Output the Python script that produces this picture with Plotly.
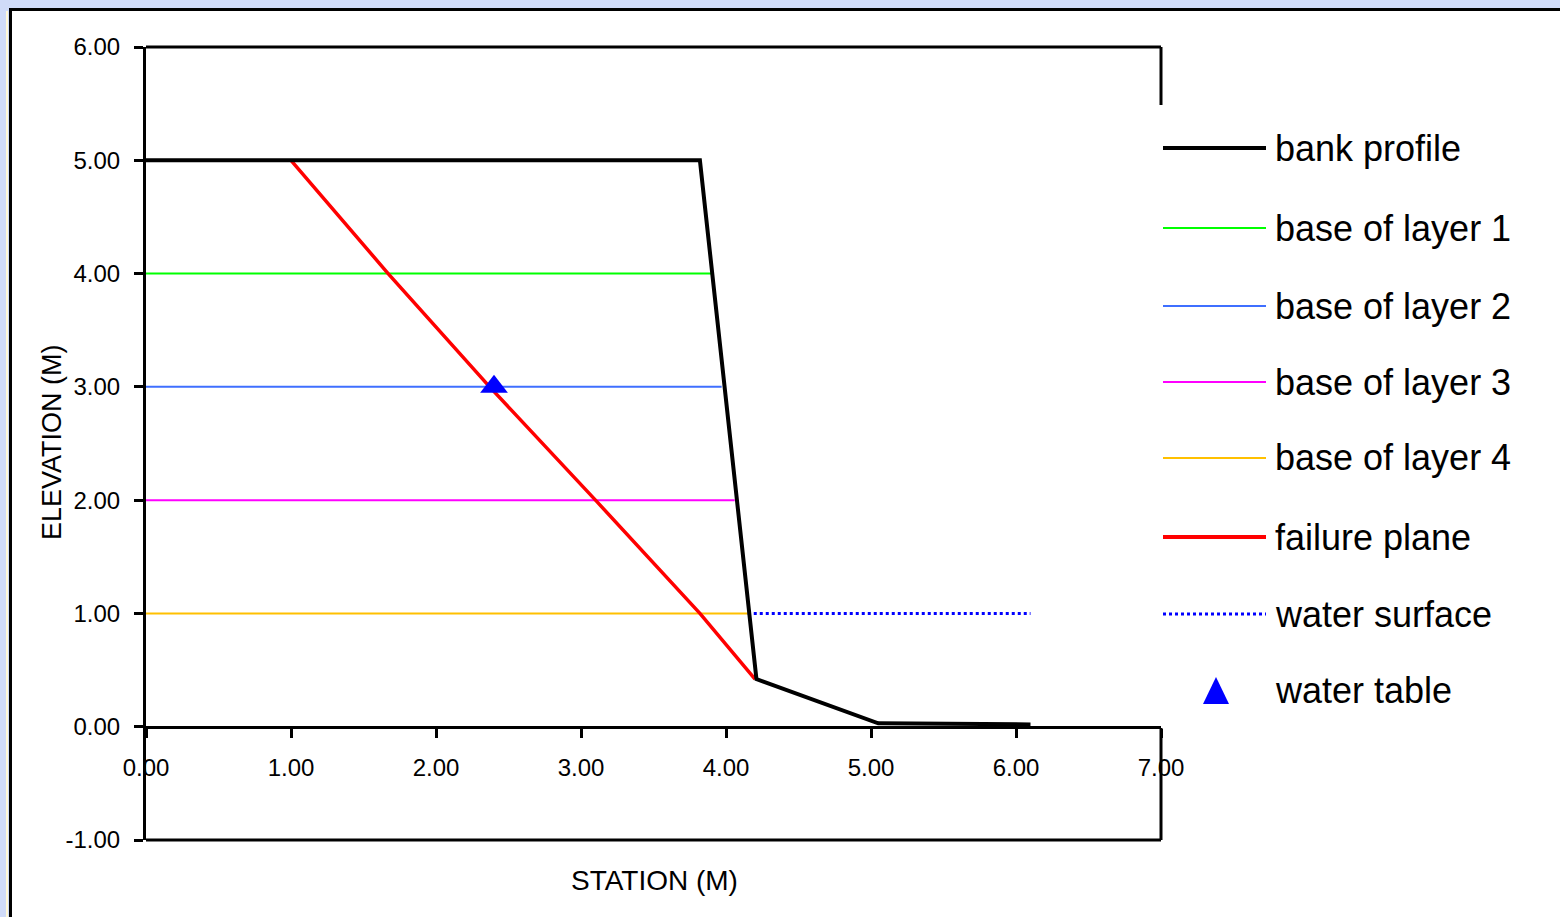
import plotly.graph_objects as go

# ---------------- data ----------------
bank_x = [0.0, 3.82, 4.21, 5.05, 6.10]
bank_y = [5.0, 5.0, 0.42, 0.03, 0.02]

failure_x = [1.0, 1.67, 2.37, 3.10, 3.82, 4.20]
failure_y = [5.0, 4.0, 3.0, 2.0, 1.0, 0.42]

layer_names = ["base of layer 1", "base of layer 2", "base of layer 3", "base of layer 4"]
layer_elev = [4.0, 3.0, 2.0, 1.0]
layer_end_x = [3.90, 3.97, 4.06, 4.15]
layer_colors = ["#00ff00", "#3f6fff", "#ff00ff", "#ffc000"]

water_surface_x = [4.15, 6.10]
water_surface_y = [1.0, 1.0]

water_table_x = [2.40]
water_table_y = [3.00]

x_tickvals = [0, 1, 2, 3, 4, 5, 6, 7]
x_ticktext = ["0.00", "1.00", "2.00", "3.00", "4.00", "5.00", "6.00", "7.00"]
y_tickvals = [-1, 0, 1, 2, 3, 4, 5, 6]
y_ticktext = ["-1.00", "0.00", "1.00", "2.00", "3.00", "4.00", "5.00", "6.00"]

legend_names = ["bank profile", "base of layer 1", "base of layer 2", "base of layer 3",
                "base of layer 4", "failure plane", "water surface", "water table"]

FONT = "Liberation Sans, Arial, sans-serif"

# ---------------- layout helpers (pixel -> paper) ----------------
W, H = 1560, 917
L, R, T, B = 146, 1161, 47, 840


def px(xp):
    return (xp - L) / (R - L)


def py(yp):
    return (B - yp) / (B - T)


fig = go.Figure()

for name, elev, xe, col in zip(layer_names, layer_elev, layer_end_x, layer_colors):
    fig.add_trace(go.Scatter(x=[0.0, xe], y=[elev, elev], mode="lines", name=name,
                             line=dict(color=col, width=2), showlegend=False))

fig.add_trace(go.Scatter(x=water_surface_x, y=water_surface_y, mode="lines", name="water surface",
                         line=dict(color="#0000ff", width=3, dash="dot"), showlegend=False))

fig.add_trace(go.Scatter(x=failure_x, y=failure_y, mode="lines", name="failure plane",
                         line=dict(color="#ff0000", width=3.5), showlegend=False))

fig.add_trace(go.Scatter(x=bank_x, y=bank_y, mode="lines", name="bank profile",
                         line=dict(color="#000000", width=4), showlegend=False))

fig.add_trace(go.Scatter(x=water_table_x, y=water_table_y, mode="markers", name="water table",
                         marker=dict(symbol="triangle-up", size=24, color="#0000ff"),
                         showlegend=False))

shapes = []
# outer window frame
shapes.append(dict(type="rect", xref="paper", yref="paper", layer="below",
                   x0=px(10.5), x1=px(1700), y0=py(9.5), y1=py(1100),
                   fillcolor="white", line=dict(color="black", width=3)))
shapes.append(dict(type="line", xref="paper", yref="paper", layer="below",
                   x0=px(7), x1=px(7), y0=py(11), y1=py(1100),
                   line=dict(color="#fff8d8", width=2)))
# plot border (right side hidden behind legend area)
shapes.append(dict(type="line", xref="paper", yref="paper", x0=0, x1=1, y0=1, y1=1,
                   line=dict(color="black", width=3)))
shapes.append(dict(type="line", xref="paper", yref="paper", x0=0, x1=1, y0=0, y1=0,
                   line=dict(color="black", width=3)))
shapes.append(dict(type="line", xref="paper", yref="paper", x0=1, x1=1, y0=1, y1=py(105),
                   line=dict(color="black", width=3)))
shapes.append(dict(type="line", xref="paper", yref="paper", x0=1, x1=1, y0=py(728), y1=0,
                   line=dict(color="black", width=3)))

# manual legend
leg_rows = [148, 228, 306, 382, 458, 537, 614, 690]
leg_styles = [
    dict(color="#000000", width=4),
    dict(color=layer_colors[0], width=2),
    dict(color=layer_colors[1], width=2),
    dict(color=layer_colors[2], width=2),
    dict(color=layer_colors[3], width=2),
    dict(color="#ff0000", width=4),
    dict(color="#0000ff", width=3, dash="dot"),
]
for yrow, st in zip(leg_rows[:7], leg_styles):
    shapes.append(dict(type="line", xref="paper", yref="paper",
                       x0=px(1163), x1=px(1266), y0=py(yrow), y1=py(yrow), line=st))
# triangle sample
tx, ty = 1216, 691
shapes.append(dict(type="path", xref="paper", yref="paper",
                   path=f"M {px(tx-13)},{py(ty+13)} L {px(tx+13)},{py(ty+13)} L {px(tx)},{py(ty-14)} Z",
                   fillcolor="#0000ff", line=dict(color="#0000ff", width=0)))

annotations = []
for yrow, name in zip(leg_rows, legend_names):
    annotations.append(dict(x=px(1273), y=py(yrow), xref="paper", yref="paper",
                            text=name, showarrow=False, xanchor="left", yanchor="middle",
                            font=dict(family=FONT, size=36, color="black")))

annotations.append(dict(x=px(654), y=py(880), xref="paper", yref="paper", text="STATION (M)",
                        showarrow=False, xanchor="center", yanchor="middle",
                        font=dict(family=FONT, size=28, color="black")))
annotations.append(dict(x=px(52), y=py(442), xref="paper", yref="paper", text="ELEVATION (M)",
                        showarrow=False, xanchor="center", yanchor="middle", textangle=-90,
                        font=dict(family=FONT, size=27, color="black")))

fig.update_layout(
    width=W, height=H,
    margin=dict(l=L, r=W - R, t=T, b=H - B, pad=0),
    paper_bgcolor="#d0dbf8",
    plot_bgcolor="white",
    showlegend=False,
    shapes=shapes,
    annotations=annotations,
    font=dict(family=FONT, color="black"),
    xaxis=dict(range=[0, 7], tickvals=x_tickvals, ticktext=x_ticktext,
               showgrid=False, zeroline=False, showline=True, linecolor="black", linewidth=3,
               ticks="outside", ticklen=9, tickwidth=3, tickcolor="black",
               anchor="free", position=1 / 7, ticklabelstandoff=9,
               tickfont=dict(family=FONT, size=24, color="black")),
    yaxis=dict(range=[-1, 6], tickvals=y_tickvals, ticktext=y_ticktext,
               showgrid=False, zeroline=False, showline=True, linecolor="black", linewidth=3,
               ticks="outside", ticklen=9, tickwidth=3, tickcolor="black",
               ticklabelstandoff=9,
               tickfont=dict(family=FONT, size=24, color="black")),
)

fig.write_html("out.html", config={"displayModeBar": False},
               post_script="document.body.style.margin='0';document.body.style.overflow='hidden';")
